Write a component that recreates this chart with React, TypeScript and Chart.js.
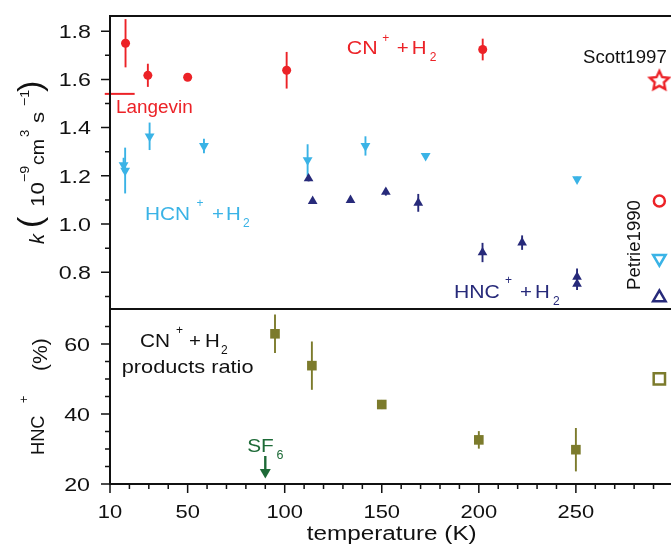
import { useEffect, useRef } from 'react';
import { Chart, registerables } from 'chart.js';

Chart.register(...registerables);

// ---------- data ----------
const cnTemp = [18, 29.5, 50, 101, 202];
const cnRate = [1.75, 1.617, 1.609, 1.638, 1.724];
const cnErr = [0.1, 0.048, 0.012, 0.076, 0.045];

const hcnTemp = [17, 17.8, 30.4, 58.4, 111.8, 141.6, 172.6, 250.6];
const hcnRate = [1.245, 1.222, 1.364, 1.324, 1.265, 1.324, 1.283, 1.186];
const hcnErr = [0.03, 0.095, 0.057, 0.03, 0.066, 0.04, 0.01, 0.01];

const hncTemp = [112.3, 114.4, 133.9, 152.1, 168.8, 201.9, 222.3, 250.6, 250.6];
const hncRate = [1.189, 1.095, 1.099, 1.133, 1.088, 0.882, 0.923, 0.781, 0.752];
const hncErr = [0.012, 0.008, 0.008, 0.015, 0.037, 0.04, 0.03, 0.035, 0.025];

const ratioTemp = [95, 114, 150, 200, 250];
const ratioHnc = [62.9, 53.8, 42.7, 32.6, 29.8];
const ratioErr = [5.5, 6.9, 1.3, 2.5, 6.2];

const refTemp = 293;
const scottCn = [1.597];
const petrieCn = [1.096];
const petrieHcn = [0.857];
const petrieHnc = [0.695];
const refRatio = [50];

const langevinRate = 1.54;
const langevinTemp = [7.3, 22.7];
const sf6Temp = 90;

const xMajorTicks = [10, 50, 100, 150, 200, 250];
const xTickLabels = ['10', '50', '100', '150', '200', '250'];
const kMajorTicks = [0.8, 1.0, 1.2, 1.4, 1.6, 1.8];
const kTickLabels = ['0.8', '1.0', '1.2', '1.4', '1.6', '1.8'];
const pMajorTicks = [20, 40, 60];
const pTickLabels = ['20', '40', '60'];

// ---------- styles ----------
const RED = '#ec2227';
const BLUE = '#3ab3e6';
const NAVY = '#272a7a';
const OLIVE = '#7c7b2c';
const GREEN = '#1d6a37';
const INK = '#111111';
const FONT = '"Liberation Sans", Arial, Helvetica, sans-serif';

type Run = { t: string; s: number; at: number; dy?: number; sx?: number; italic?: boolean };

function drawRuns(ctx: CanvasRenderingContext2D, x: number, y: number, runs: Run[], color: string, rotate = false) {
  ctx.save();
  ctx.translate(x, y);
  if (rotate) ctx.rotate(-Math.PI / 2);
  ctx.fillStyle = color;
  ctx.textBaseline = 'alphabetic';
  ctx.textAlign = 'left';
  for (const r of runs) {
    ctx.save();
    ctx.translate(r.at, r.dy ?? 0);
    ctx.scale(r.sx ?? 1, 1);
    ctx.font = `${r.italic ? 'italic ' : ''}${r.s}px ${FONT}`;
    ctx.fillText(r.t, 0, 0);
    ctx.restore();
  }
  ctx.restore();
}

function label(ctx: CanvasRenderingContext2D, t: string, x: number, y: number, align: CanvasTextAlign, sx: number, size = 18.6, color = INK) {
  ctx.save();
  ctx.translate(x, y);
  ctx.scale(sx, 1);
  ctx.font = `${size}px ${FONT}`;
  ctx.textAlign = align;
  ctx.textBaseline = 'alphabetic';
  ctx.fillStyle = color;
  ctx.fillText(t, 0, 0);
  ctx.restore();
}

function makeStar(color: string) {
  const c = document.createElement('canvas');
  c.width = 26;
  c.height = 26;
  const g = c.getContext('2d')!;
  g.strokeStyle = color;
  g.lineWidth = 2.4;
  g.lineJoin = 'miter';
  g.beginPath();
  const R = 10, r = 4.8, cx = 13, cy = 13.8;
  for (let i = 0; i < 10; i++) {
    const a = -Math.PI / 2 + (i * Math.PI) / 5;
    const rad = i % 2 === 0 ? R : r;
    const px = cx + rad * Math.cos(a);
    const py = cy + rad * Math.sin(a);
    if (i === 0) g.moveTo(px, py);
    else g.lineTo(px, py);
  }
  g.closePath();
  g.stroke();
  return c;
}

const pts = (xs: number[], ys: number[]) => xs.map((x, i) => ({ x, y: ys[i] }));

const decor = {
  id: 'decor',
  beforeDatasetsDraw(chart: any) {
    const ctx: CanvasRenderingContext2D = chart.ctx;
    const xs = chart.scales.x;
    chart.data.datasets.forEach((ds: any) => {
      if (!ds.errors) return;
      const ys = chart.scales[ds.yAxisID];
      ctx.save();
      ctx.strokeStyle = ds.backgroundColor;
      ctx.lineWidth = 1.9;
      ds.data.forEach((d: any, j: number) => {
        const e = ds.errors[j];
        const px = xs.getPixelForValue(d.x);
        ctx.beginPath();
        ctx.moveTo(px, ys.getPixelForValue(d.y - e));
        ctx.lineTo(px, ys.getPixelForValue(d.y + e));
        ctx.stroke();
      });
      ctx.restore();
    });
  },
  afterDraw(chart: any) {
    const ctx: CanvasRenderingContext2D = chart.ctx;
    const { left, right, top, bottom } = chart.chartArea;
    const xs = chart.scales.x;
    const yk = chart.scales.yk;
    const yp = chart.scales.yp;

    // frame
    ctx.save();
    ctx.strokeStyle = INK;
    ctx.lineWidth = 2;
    ctx.beginPath();
    ctx.moveTo(left, top);
    ctx.lineTo(right, top);
    ctx.moveTo(left, yk.bottom);
    ctx.lineTo(right, yk.bottom);
    ctx.moveTo(left, bottom);
    ctx.lineTo(right, bottom);
    ctx.moveTo(left, top - 1);
    ctx.lineTo(left, bottom + 1);
    ctx.stroke();

    // ticks
    ctx.lineWidth = 1.5;
    ctx.beginPath();
    const MAJ = 9, MIN = 5;
    for (let v = 0.7; v <= yk.max + 1e-9; v += 0.1) {
      const vv = Math.round(v * 10) / 10;
      if (vv < yk.min) continue;
      const py = yk.getPixelForValue(vv);
      const major = kMajorTicks.some((m) => Math.abs(m - vv) < 1e-6);
      ctx.moveTo(left - (major ? MAJ : MIN), py);
      ctx.lineTo(left, py);
    }
    for (let v = yp.min; v < yp.max - 1e-9; v += 5) {
      const py = yp.getPixelForValue(v);
      const major = pMajorTicks.includes(v);
      ctx.moveTo(left - (major ? MAJ : MIN), py);
      ctx.lineTo(left, py);
    }
    for (let v = xs.min; v <= xs.max; v += 10) {
      const px = xs.getPixelForValue(v);
      const major = xMajorTicks.includes(v);
      ctx.moveTo(px, bottom);
      ctx.lineTo(px, bottom + (major ? MAJ : MIN));
    }
    ctx.stroke();
    ctx.restore();

    // tick labels
    kMajorTicks.forEach((v, i) => label(ctx, kTickLabels[i], 91, yk.getPixelForValue(v) + 6.7, 'right', 1.25));
    pMajorTicks.forEach((v, i) => label(ctx, pTickLabels[i], 90, yp.getPixelForValue(v) + 6.7, 'right', 1.25));
    xMajorTicks.forEach((v, i) => label(ctx, xTickLabels[i], xs.getPixelForValue(v), 518, 'center', 1.18));

    // axis titles
    label(ctx, 'temperature (K)', 306.7, 539.5, 'left', 1.245, 19.5);
    drawRuns(ctx, 44, 244, [
      { t: 'k', s: 20, at: 0, italic: true },
      { t: '(', s: 34, at: 16, dy: -3 },
      { t: '10', s: 18.6, at: 37, sx: 1.2 },
      { t: '\u22129', s: 13, at: 62, dy: -15, sx: 1.1 },
      { t: 'cm', s: 18.6, at: 79, sx: 1.05 },
      { t: '3', s: 13, at: 107, dy: -15 },
      { t: 's', s: 18.6, at: 121, sx: 1.2 },
      { t: '\u22121', s: 13, at: 138, dy: -15, sx: 1.1 },
      { t: ')', s: 34, at: 152, dy: -3 },
    ], INK, true);
    drawRuns(ctx, 44, 455, [
      { t: 'HNC', s: 19, at: 0, sx: 0.96 },
      { t: '+', s: 12.5, at: 52, dy: -16 },
      { t: '(%)', s: 21, at: 84, dy: 3 },
    ], INK, true);

    // annotations
    drawRuns(ctx, 346.7, 53.5, [
      { t: 'CN', s: 18.6, at: 0, sx: 1.15 },
      { t: '+', s: 12, at: 35.5, dy: -12 },
      { t: '+', s: 18.6, at: 50, sx: 1.1 },
      { t: 'H', s: 18.6, at: 65, sx: 1.1 },
      { t: '2', s: 12, at: 83, dy: 7 },
    ], RED);
    drawRuns(ctx, 145, 220, [
      { t: 'HCN', s: 18.6, at: 0, sx: 1.12 },
      { t: '+', s: 12, at: 51.5, dy: -13 },
      { t: '+', s: 18.6, at: 67, sx: 1.1 },
      { t: 'H', s: 18.6, at: 81, sx: 1.1 },
      { t: '2', s: 12, at: 98, dy: 7 },
    ], BLUE);
    drawRuns(ctx, 454, 297.5, [
      { t: 'HNC', s: 18.6, at: 0, sx: 1.14 },
      { t: '+', s: 12, at: 51, dy: -14 },
      { t: '+', s: 18.6, at: 66, sx: 1.1 },
      { t: 'H', s: 18.6, at: 81, sx: 1.1 },
      { t: '2', s: 12, at: 99, dy: 7 },
    ], NAVY);
    drawRuns(ctx, 140, 346.7, [
      { t: 'CN', s: 18.6, at: 0, sx: 1.12 },
      { t: '+', s: 12, at: 36, dy: -12.5 },
      { t: '+', s: 18.6, at: 49, sx: 1.1 },
      { t: 'H', s: 18.6, at: 65, sx: 1.1 },
      { t: '2', s: 12, at: 81, dy: 7 },
    ], INK);
    label(ctx, 'products ratio', 121.7, 372.5, 'left', 1.17);
    label(ctx, 'Langevin', 116, 112.7, 'left', 1.05, 18, RED);
    label(ctx, 'Scott1997', 583, 63.3, 'left', 1.0, 18.6, INK);
    drawRuns(ctx, 640, 290, [{ t: 'Petrie1990', s: 18.6, at: 0 }], INK, true);

    // SF6 marker
    const sx6 = xs.getPixelForValue(sf6Temp);
    drawRuns(ctx, sx6 - 18.1, 452.3, [
      { t: 'SF', s: 18.6, at: 0, sx: 1.12 },
      { t: '6', s: 12.5, at: 29.3, dy: 7 },
    ], GREEN);
    ctx.save();
    ctx.strokeStyle = GREEN;
    ctx.fillStyle = GREEN;
    ctx.lineWidth = 2.4;
    ctx.beginPath();
    ctx.moveTo(sx6, 456);
    ctx.lineTo(sx6, 471);
    ctx.stroke();
    ctx.beginPath();
    ctx.moveTo(sx6 - 5.5, 469);
    ctx.lineTo(sx6 + 5.5, 469);
    ctx.lineTo(sx6, 478.5);
    ctx.closePath();
    ctx.fill();
    ctx.restore();
  },
};

export default function App() {
  const ref = useRef<HTMLCanvasElement | null>(null);
  useEffect(() => {
    const canvas = ref.current;
    if (!canvas) return;
    const star = makeStar(RED);
    const filled = (color: string, style: any, radius: number, rotation = 0) => ({
      pointStyle: style,
      pointRadius: radius,
      pointRotation: rotation,
      backgroundColor: color,
      borderColor: color,
      pointBorderWidth: 0,
      borderWidth: 0,
    });
    const hollow = (color: string, style: any, radius: number, rotation = 0) => ({
      pointStyle: style,
      pointRadius: radius,
      pointRotation: rotation,
      backgroundColor: 'rgba(0,0,0,0)',
      borderColor: color,
      pointBorderWidth: 2.5,
      borderWidth: 2.5,
    });
    const chart = new Chart(canvas, {
      type: 'scatter',
      data: {
        datasets: [
          { label: 'CN+ + H2', data: pts(cnTemp, cnRate), yAxisID: 'yk', errors: cnErr, ...filled(RED, 'circle', 4.5) },
          { label: 'HNC+ + H2', data: pts(hncTemp, hncRate), yAxisID: 'yk', errors: hncErr, ...filled(NAVY, 'triangle', 5.6) },
          { label: 'HCN+ + H2', data: pts(hcnTemp, hcnRate), yAxisID: 'yk', errors: hcnErr, ...filled(BLUE, 'triangle', 5.7, 180) },
          { label: 'HNC+ ratio', data: pts(ratioTemp, ratioHnc), yAxisID: 'yp', errors: ratioErr, ...filled(OLIVE, 'rect', 6.8) },
          { label: 'Scott1997', data: pts([refTemp], scottCn), yAxisID: 'yk', pointStyle: star, pointRadius: 10, backgroundColor: RED, borderColor: RED },
          { label: 'Petrie CN', data: pts([refTemp], petrieCn), yAxisID: 'yk', ...hollow(RED, 'circle', 5.5) },
          { label: 'Petrie HCN', data: pts([refTemp], petrieHcn), yAxisID: 'yk', ...hollow(BLUE, 'triangle', 7.2, 180) },
          { label: 'Petrie HNC', data: pts([refTemp], petrieHnc), yAxisID: 'yk', ...hollow(NAVY, 'triangle', 7.2) },
          { label: 'ref ratio', data: pts([refTemp], refRatio), yAxisID: 'yp', ...hollow(OLIVE, 'rect', 8) },
          {
            label: 'Langevin',
            data: langevinTemp.map((x) => ({ x, y: langevinRate })),
            yAxisID: 'yk',
            showLine: true,
            borderColor: RED,
            backgroundColor: RED,
            borderWidth: 2,
            pointRadius: 0,
            clip: false,
          },
        ] as any,
      },
      options: {
        animation: false,
        responsive: false,
        devicePixelRatio: 1,
        events: [],
        layout: { autoPadding: false, padding: { left: 110, top: 16, right: 0, bottom: 74 } },
        plugins: { legend: { display: false }, tooltip: { enabled: false } },
        scales: {
          x: {
            type: 'linear',
            position: 'bottom',
            min: 10,
            max: 299,
            grid: { display: false, drawTicks: false },
            border: { display: false },
            ticks: { display: false },
          },
          yk: {
            type: 'linear',
            position: 'left',
            min: 0.648,
            max: 1.863,
            stack: 'panels',
            stackWeight: 293.3,
            weight: 2,
            grid: { display: false, drawTicks: false },
            border: { display: false },
            ticks: { display: false },
          },
          yp: {
            type: 'linear',
            position: 'left',
            min: 20,
            max: 70,
            stack: 'panels',
            stackWeight: 175.3,
            weight: 1,
            grid: { display: false, drawTicks: false },
            border: { display: false },
            ticks: { display: false },
          },
        } as any,
      },
      plugins: [decor],
    });
    return () => chart.destroy();
  }, []);
  return (
    <div style={{ position: 'fixed', left: 0, top: 0, width: 671, height: 558, background: '#fff' }}>
      <canvas ref={ref} width={671} height={558} style={{ display: 'block', width: 671, height: 558 }} />
    </div>
  );
}
